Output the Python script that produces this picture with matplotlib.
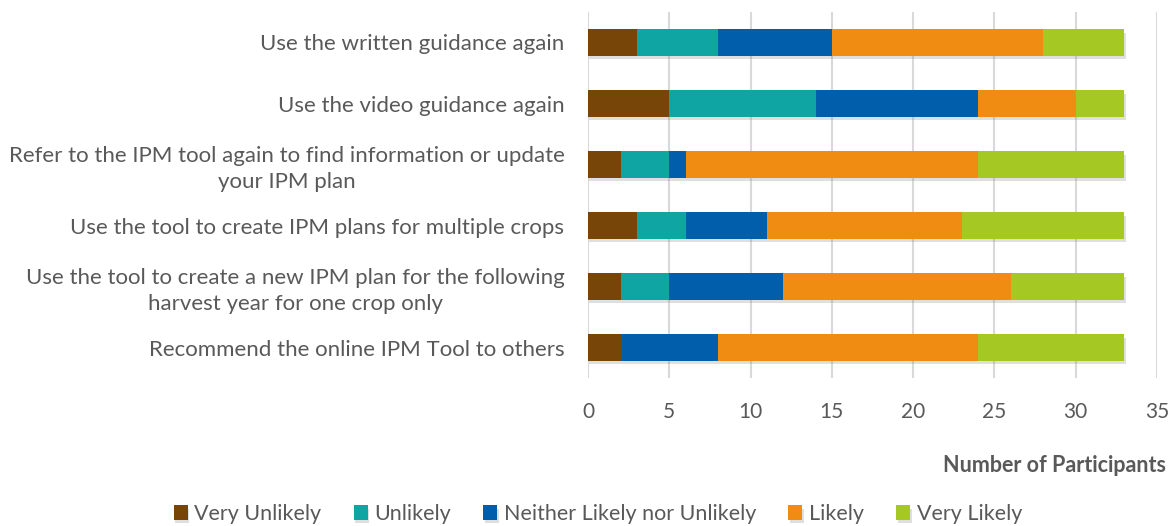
import matplotlib
matplotlib.use("Agg")
import matplotlib.pyplot as plt
import matplotlib.patheffects as pe
import numpy as np

plt.rcParams['font.family'] = ['Lato', 'DejaVu Sans']

statements = [
    "Use the written guidance again",
    "Use the video guidance again",
    "Refer to the IPM tool again to find information or update\nyour IPM plan",
    "Use the tool to create IPM plans for multiple crops",
    "Use the tool to create a new IPM plan for the following\nharvest year for one crop only",
    "Recommend the online IPM Tool to others",
]
categories = ["Very Unlikely", "Unlikely", "Neither Likely nor Unlikely", "Likely", "Very Likely"]
very_unlikely = [3, 5, 2, 3, 2, 2]
unlikely = [5, 9, 3, 3, 3, 0]
neither = [7, 10, 1, 5, 7, 6]
likely = [13, 6, 18, 12, 14, 16]
very_likely = [5, 3, 9, 10, 7, 9]
colors = ["#784508", "#0FA5A2", "#005EAA", "#F08C11", "#A6C822"]
text_color = '#595959'

series = [very_unlikely, unlikely, neither, likely, very_likely]

fig = plt.figure(figsize=(11.7, 5.26), dpi=100)
ax = fig.add_axes([588 / 1170, 1 - 378 / 526, (1157 - 588) / 1170, (378 - 12) / 526])

y = np.arange(len(statements))
left = np.zeros(len(statements))
shadow = [pe.SimplePatchShadow(offset=(1, -2.5), shadow_rgbFace='#808080', alpha=0.25), pe.Normal()]
for vals, col, name in zip(series, colors, categories):
    vals = np.array(vals, dtype=float)
    bars = ax.barh(y, vals, left=left, height=0.43, color=col, label=name, zorder=3)
    for b in bars:
        b.set_path_effects(shadow)
    left += vals

ax.set_xlim(0, 35)
ax.set_ylim(len(statements) - 0.5, -0.5)
ax.set_xticks(np.arange(0, 36, 5))
ax.set_yticks(y)
ax.set_yticklabels(statements, fontsize=16, color=text_color, ha='right', multialignment='center',
                   linespacing=1.35)
ax.tick_params(axis='x', length=0, colors=text_color, labelsize=15)
ax.tick_params(axis='y', length=0, colors=text_color)
ax.tick_params(axis='y', pad=17)
ax.tick_params(axis='x', pad=17)
for s in ax.spines.values():
    s.set_visible(False)
ax.grid(axis='x', color='#D9D9D9', linewidth=1.5, zorder=0)
ax.set_axisbelow(True)

fig.text(1166 / 1170, 1 - 465 / 526, "Number of Participants", ha='right', va='center',
         fontsize=15.5, fontweight='bold', color=text_color)

leg = fig.legend(loc='center', bbox_to_anchor=(598 / 1170, 1 - 514 / 526), ncol=5, frameon=False,
                 fontsize=15.5, handlelength=0.65, handleheight=0.65, handletextpad=0.3,
                 columnspacing=1.5)
for t in leg.get_texts():
    t.set_color(text_color)

fig.savefig("out.png", dpi=100)
